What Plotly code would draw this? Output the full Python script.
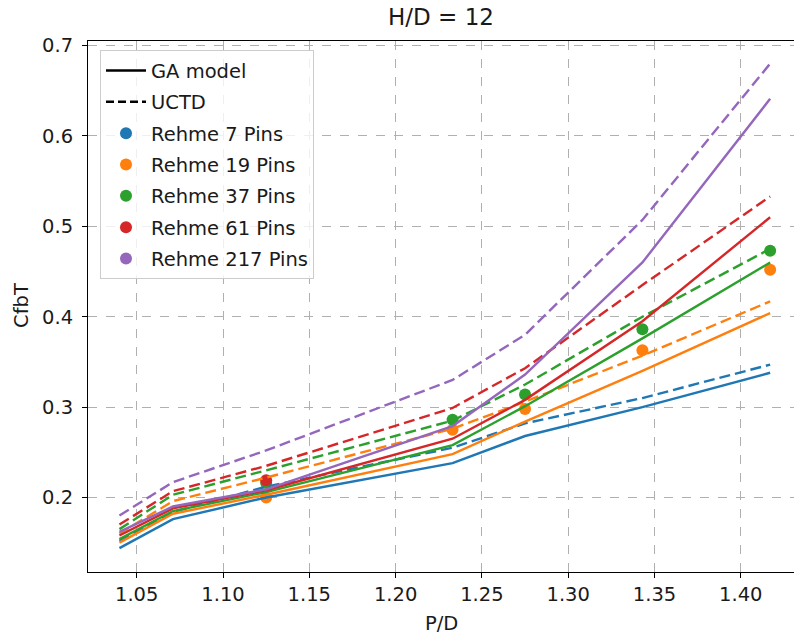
import plotly.graph_objects as go

# P/D sample points
pd_ratio = [1.04, 1.071, 1.125, 1.233, 1.275, 1.343, 1.417]

# GA model friction factor per bundle size
ga_7 = [0.144, 0.176, 0.200, 0.238, 0.268, 0.300, 0.338]
ga_19 = [0.150, 0.182, 0.203, 0.248, 0.284, 0.340, 0.404]
ga_37 = [0.154, 0.185, 0.206, 0.258, 0.301, 0.376, 0.460]
ga_61 = [0.158, 0.188, 0.208, 0.265, 0.308, 0.395, 0.510]
ga_217 = [0.162, 0.190, 0.209, 0.279, 0.336, 0.460, 0.641]

# UCTD correlation per bundle size
uctd_7 = [0.152, 0.184, 0.212, 0.255, 0.282, 0.310, 0.347]
uctd_19 = [0.160, 0.196, 0.222, 0.276, 0.306, 0.357, 0.417]
uctd_37 = [0.165, 0.203, 0.230, 0.285, 0.325, 0.400, 0.475]
uctd_61 = [0.170, 0.207, 0.235, 0.299, 0.343, 0.435, 0.533]
uctd_217 = [0.180, 0.217, 0.252, 0.330, 0.380, 0.507, 0.680]

# Rehme experimental data
rehme_7 = [None, None, None, None, None, None, None]
rehme_19 = [None, None, 0.200, 0.275, 0.298, 0.363, 0.452]
rehme_37 = [None, None, 0.216, 0.286, 0.314, 0.386, 0.473]
rehme_61 = [None, None, 0.219, None, None, None, None]
rehme_217 = [None, None, None, None, None, None, None]

pins = ["7", "19", "37", "61", "217"]
x_ticks = [1.05, 1.10, 1.15, 1.20, 1.25, 1.30, 1.35, 1.40]
y_ticks = [0.2, 0.3, 0.4, 0.5, 0.6, 0.7]

colors = ["#1f77b4", "#ff7f0e", "#2ca02c", "#d62728", "#9467bd"]
ga_all = [ga_7, ga_19, ga_37, ga_61, ga_217]
uctd_all = [uctd_7, uctd_19, uctd_37, uctd_61, uctd_217]
rehme_all = [rehme_7, rehme_19, rehme_37, rehme_61, rehme_217]

FONT = "DejaVu Sans"
FS = 19.5
TXT = "#1a1a1a"
fig = go.Figure()

# Experimental points first so the model curves sit on top of them
for i, (n, c, ys) in enumerate(zip(pins, colors, rehme_all)):
    fig.add_trace(go.Scatter(
        x=pd_ratio, y=ys, mode="markers", name=f"Rehme {n} Pins",
        marker=dict(color=c, size=12), legendgroup=f"r{n}", legendrank=10 + i,
    ))

for c, g, u in zip(colors, ga_all, uctd_all):
    fig.add_trace(go.Scatter(x=pd_ratio, y=g, mode="lines", showlegend=False,
                             line=dict(color=c, width=2.4), hoverinfo="skip"))
    fig.add_trace(go.Scatter(x=pd_ratio, y=u, mode="lines", showlegend=False,
                             line=dict(color=c, width=2.4, dash="11px,5px"), hoverinfo="skip"))

# Legend keys for the two line styles
fig.add_trace(go.Scatter(x=[None], y=[None], mode="lines", name="GA model",
                         line=dict(color="black", width=2.4), legendgroup="ga", legendrank=1))
fig.add_trace(go.Scatter(x=[None], y=[None], mode="lines", name="UCTD",
                         line=dict(color="black", width=2.4, dash="8px,4px"),
                         legendgroup="uctd", legendrank=2))

axis_common = dict(
    showline=True, linecolor="black", linewidth=1.1,
    ticks="outside", ticklen=5, tickwidth=1.1, tickcolor="black",
    showgrid=True, gridcolor="#b0b0b0", griddash="dash", gridwidth=1,
    zeroline=False, tickfont=dict(family=FONT, size=FS, color=TXT),
)

fig.update_layout(
    width=794, height=638,
    margin=dict(l=88, r=0, t=41, b=66),
    plot_bgcolor="white", paper_bgcolor="white",
    font=dict(family=FONT, size=FS, color=TXT),
    xaxis=dict(range=[1.02178, 1.43082], tickvals=x_ticks, tickformat=".2f",
               mirror=True, **axis_common),
    yaxis=dict(range=[0.11757, 0.70497], tickvals=y_ticks, tickformat=".1f",
               ticklabelstandoff=5, **axis_common),
    legend=dict(x=0.017, y=0.9825, xanchor="left", yanchor="top",
                bgcolor="rgba(255,255,255,0.8)", bordercolor="#cccccc", borderwidth=1,
                font=dict(family=FONT, size=FS, color=TXT),
                tracegroupgap=3, itemwidth=40),
    showlegend=True,
    annotations=[
        dict(text="H/D = 12", xref="paper", yref="paper", x=0.5, y=1.0, yshift=24,
             showarrow=False, font=dict(family=FONT, size=23, color=TXT),
             xanchor="center", yanchor="middle"),
        dict(text="P/D", xref="paper", yref="paper", x=0.5, y=0, yshift=-51,
             showarrow=False, font=dict(family=FONT, size=FS, color=TXT),
             xanchor="center", yanchor="middle"),
        dict(text="CfbT", xref="paper", yref="paper", x=0, xshift=-66, y=0.501,
             showarrow=False, textangle=-90, font=dict(family=FONT, size=FS, color=TXT),
             xanchor="center", yanchor="middle"),
    ],
)

fig.write_html("out.html")
